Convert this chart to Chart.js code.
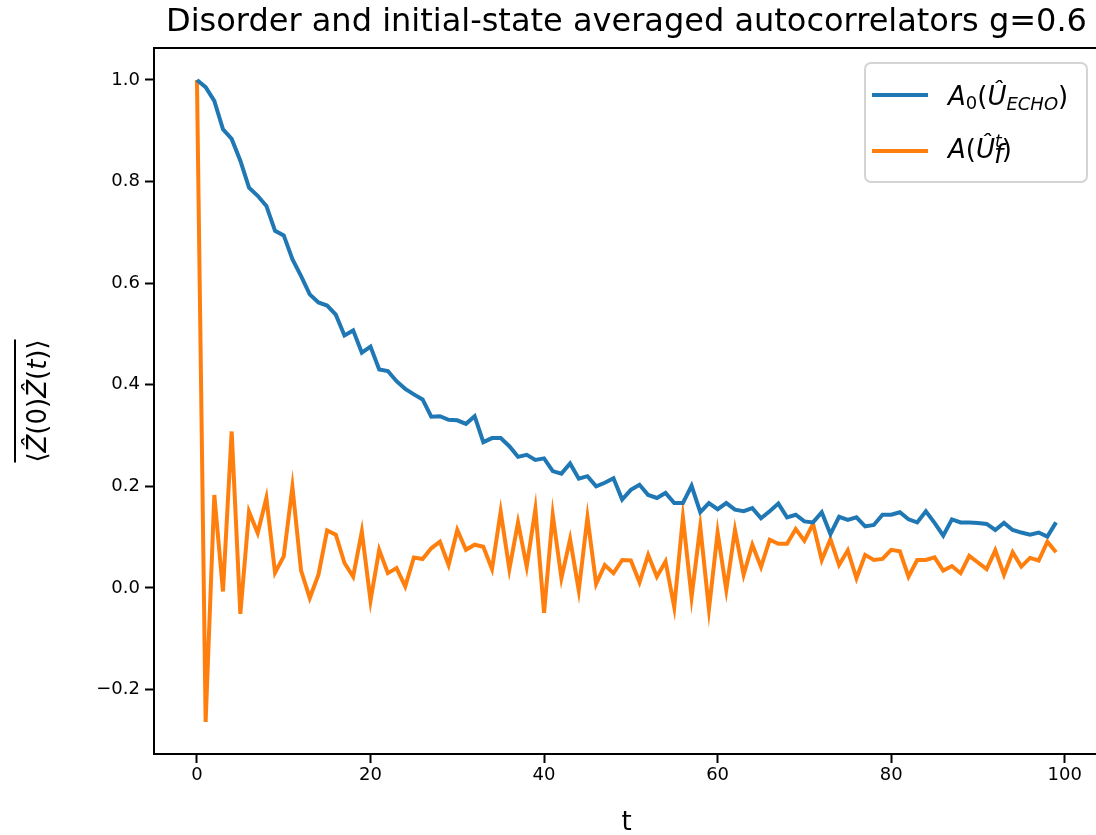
<!DOCTYPE html>
<html>
<head>
<meta charset="utf-8">
<script src="https://cdn.jsdelivr.net/npm/chart.js@4"></script>
<style>
  html, body { margin: 0; padding: 0; background: #fff; overflow: hidden; }
  .wrap { width: 1100px; height: 835px; position: relative; }
</style>
</head>
<body>
<div class="wrap"><canvas class="auto-chart"></canvas></div>
<script>
const steps = Array.from({ length: 100 }, (_, i) => i);

const echo = [
  1.0, 0.986, 0.959, 0.903, 0.884, 0.841, 0.788, 0.772, 0.752, 0.703,
  0.694, 0.647, 0.614, 0.578, 0.562, 0.556, 0.538, 0.497, 0.507, 0.463,
  0.475, 0.43, 0.427, 0.407, 0.392, 0.381, 0.371, 0.337, 0.338, 0.331,
  0.33, 0.323, 0.338, 0.287, 0.295, 0.295, 0.279, 0.258, 0.262, 0.252,
  0.255, 0.23, 0.225, 0.245, 0.215, 0.22, 0.2, 0.207, 0.216, 0.174,
  0.193, 0.203, 0.183, 0.177, 0.187, 0.167, 0.167, 0.201, 0.149, 0.167,
  0.155, 0.167, 0.154, 0.151, 0.157, 0.137, 0.151, 0.166, 0.139, 0.144,
  0.131, 0.129, 0.149, 0.106, 0.14, 0.134, 0.139, 0.121, 0.124, 0.144,
  0.144, 0.149, 0.135, 0.129, 0.151, 0.128, 0.103, 0.135, 0.129, 0.129,
  0.128, 0.126, 0.114, 0.128, 0.114, 0.109, 0.105, 0.109, 0.101, 0.129,
];

const floquet = [
  1.0, -0.264, 0.183, -0.007, 0.308, -0.051, 0.15, 0.108, 0.177, 0.03,
  0.062, 0.199, 0.034, -0.02, 0.026, 0.113, 0.105, 0.049, 0.022, 0.111,
  -0.025, 0.075, 0.029, 0.039, 0.003, 0.06, 0.057, 0.078, 0.091, 0.045,
  0.114, 0.075, 0.085, 0.081, 0.037, 0.15, 0.037, 0.129, 0.042, 0.155,
  -0.049, 0.144, 0.019, 0.096, -0.005, 0.139, 0.008, 0.045, 0.029, 0.055,
  0.054, 0.011, 0.065, 0.022, 0.052, -0.038, 0.139, -0.018, 0.121, -0.042,
  0.109, -0.004, 0.114, 0.026, 0.085, 0.041, 0.095, 0.087, 0.087, 0.116,
  0.093, 0.126, 0.055, 0.096, 0.045, 0.074, 0.019, 0.065, 0.055, 0.057,
  0.075, 0.072, 0.022, 0.055, 0.055, 0.06, 0.034, 0.043, 0.029, 0.063,
  0.05, 0.037, 0.074, 0.026, 0.07, 0.042, 0.059, 0.054, 0.091, 0.07,
];

const xTicks = [0, 20, 40, 60, 80, 100];
const yTicks = [-0.2, 0.0, 0.2, 0.4, 0.6, 0.8, 1.0];

const FONT = "'DejaVu Sans'";

// draws a row of pieces [text, size, italic, dy]
function drawPieces(c, pieces, x, y) {
  pieces.forEach((p) => {
    c.font = (p[2] ? "italic " : "") + p[1] + "px " + FONT;
    c.fillText(p[0], x, y + (p[3] || 0));
    x += c.measureText(p[0]).width;
  });
  return x;
}
function piecesWidth(c, pieces) {
  let w = 0;
  pieces.forEach((p) => {
    c.font = (p[2] ? "italic " : "") + p[1] + "px " + FONT;
    w += c.measureText(p[0]).width;
  });
  return w;
}

const decorations = {
  id: "decorations",
  afterDraw(chart) {
    const c = chart.ctx;
    const a = chart.chartArea;
    c.save();
    // top and right spines
    c.strokeStyle = "#000";
    c.lineWidth = 2;
    c.beginPath();
    c.moveTo(a.left, a.top);
    c.lineTo(a.right, a.top);
    c.lineTo(a.right, a.bottom);
    c.stroke();

    c.fillStyle = "#000";
    // title
    c.font = "32px " + FONT;
    c.textAlign = "center";
    c.textBaseline = "alphabetic";
    c.fillText("Disorder and initial-state averaged autocorrelators g=0.6", (a.left + a.right) / 2, 31);

    // x label
    c.font = "26px " + FONT;
    c.fillText("t", (a.left + a.right) / 2, 830);

    // y label
    c.textAlign = "left";
    const yl = [
      ["⟨", 26, false], ["Ẑ", 26, true], ["(0)", 26, false],
      ["Ẑ", 26, true], ["(", 26, false], ["t", 26, true], [")⟩", 26, false],
    ];
    const w = piecesWidth(c, yl);
    c.translate(46, (a.top + a.bottom) / 2);
    c.rotate(-Math.PI / 2);
    drawPieces(c, yl, -w / 2, 0);
    c.lineWidth = 2;
    c.beginPath();
    c.moveTo(-w / 2, -31);
    c.lineTo(w / 2, -31);
    c.stroke();
    c.restore();

    // legend
    c.save();
    c.beginPath();
    c.roundRect(865, 63, 222, 119, 6);
    c.fillStyle = "rgba(255,255,255,0.8)";
    c.fill();
    c.strokeStyle = "#d4d4d4";
    c.lineWidth = 2;
    c.stroke();
    const rows = [
      { color: "#1f77b4", y: 95, base: 105, pieces: [["A", 26, true], ["0", 18, false, 4], ["(", 26, false], ["Û", 26, true], ["ECHO", 18, true, 5], [")", 26, false]] },
      { color: "#ff7f0e", y: 151, base: 158, pieces: [["A", 26, true], ["(", 26, false], ["Û", 26, true], ["t", 17, true, -11], [")", 26, false]] },
    ];
    rows.forEach((r) => {
      c.strokeStyle = r.color;
      c.lineWidth = 4;
      c.beginPath();
      c.moveTo(872, r.y);
      c.lineTo(928, r.y);
      c.stroke();
      c.fillStyle = "#000";
      c.textAlign = "left";
      c.textBaseline = "alphabetic";
      drawPieces(c, r.pieces, 948, r.base);
    });
    // subscript f under the superscript t
    c.font = "italic 17px " + FONT;
    c.fillText("f", 948 + piecesWidth(c, [["A", 26, true], ["(", 26, false], ["Û", 26, true]]) - 1, 158 + 5);
    c.restore();
  },
};

new Chart(document.querySelector(".auto-chart"), {
  type: "line",
  data: {
    datasets: [
      {
        label: "A0(U_ECHO)",
        data: steps.map((t, i) => ({ x: t, y: echo[i] })),
        borderColor: "#1f77b4",
        borderWidth: 4,
        pointRadius: 0,
        tension: 0,
      },
      {
        label: "A(U_f^t)",
        data: steps.map((t, i) => ({ x: t, y: floquet[i] })),
        borderColor: "#ff7f0e",
        borderWidth: 4,
        pointRadius: 0,
        tension: 0,
      },
    ],
  },
  options: {
    responsive: true,
    maintainAspectRatio: false,
    animation: false,
    layout: { padding: { top: 48, right: 1, left: 0, bottom: 0 } },
    scales: {
      x: {
        type: "linear",
        min: -4.95,
        max: 103.95,
        afterBuildTicks: (scale) => {
          scale.ticks = xTicks.map((v) => ({ value: v }));
        },
        afterFit: (scale) => {
          scale.height = 81;
        },
        ticks: {
          color: "#000",
          font: { family: FONT, size: 18 },
          padding: 2,
          maxRotation: 0,
          autoSkip: false,
          callback: (v) => String(v),
        },
        grid: {
          drawOnChartArea: false,
          drawTicks: true,
          tickLength: 9,
          tickWidth: 2,
          tickColor: "#000",
        },
        border: { display: true, color: "#000", width: 2 },
      },
      y: {
        min: -0.327,
        max: 1.063,
        afterBuildTicks: (scale) => {
          scale.ticks = yTicks.map((v) => ({ value: v }));
        },
        afterFit: (scale) => {
          scale.width = 154;
        },
        ticks: {
          color: "#000",
          font: { family: FONT, size: 18 },
          padding: 5,
          autoSkip: false,
          callback: (v) => v.toFixed(1).replace("-", "−"),
        },
        grid: {
          drawOnChartArea: false,
          drawTicks: true,
          tickLength: 9,
          tickWidth: 2,
          tickColor: "#000",
        },
        border: { display: true, color: "#000", width: 2 },
      },
    },
    plugins: {
      legend: { display: false },
      tooltip: { enabled: false },
    },
  },
  plugins: [decorations],
});
</script>
</body>
</html>
